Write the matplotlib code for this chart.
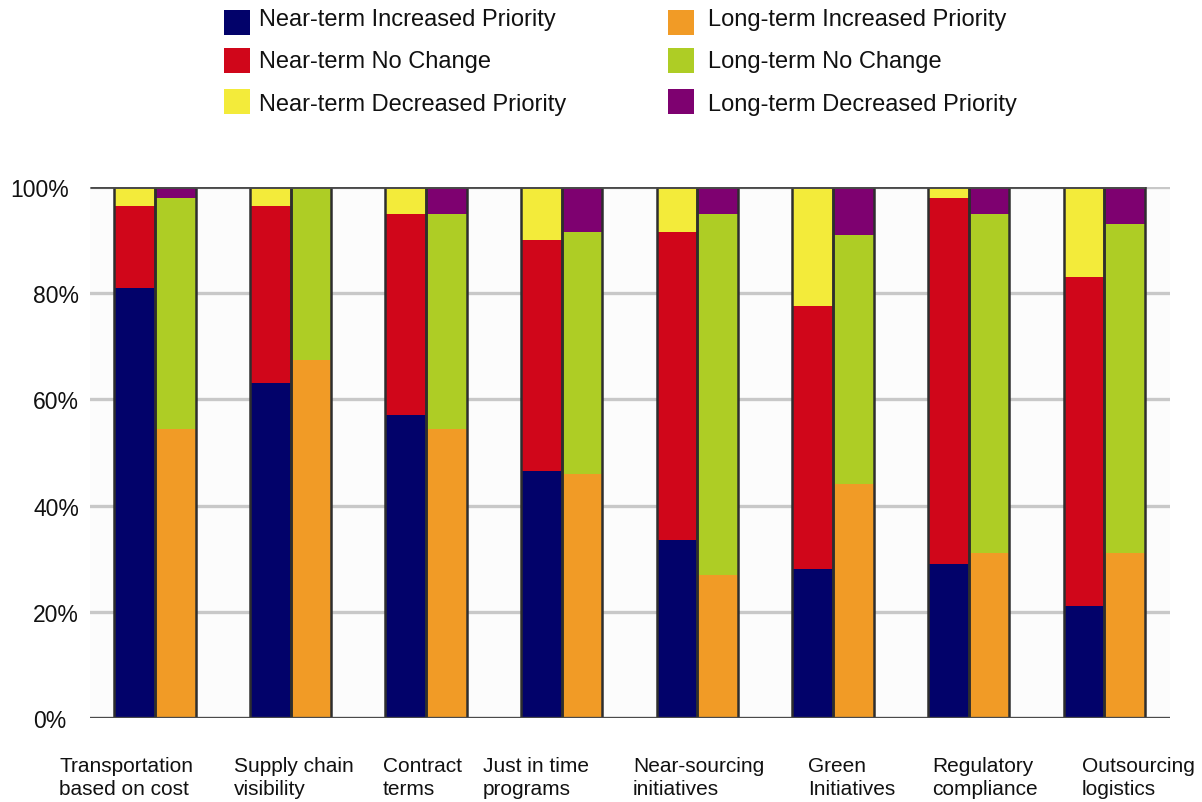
import matplotlib
matplotlib.use("Agg")
import matplotlib.pyplot as plt
from matplotlib.patches import Rectangle
import numpy as np

plt.rcParams['font.family'] = ['Liberation Sans', 'DejaVu Sans']

categories = [
    "Transportation\nbased on cost",
    "Supply chain\nvisibility",
    "Contract\nterms",
    "Just in time\nprograms",
    "Near-sourcing\ninitiatives",
    "Green\nInitiatives",
    "Regulatory\ncompliance",
    "Outsourcing\nlogistics",
]

near_increased = [81.0, 63.0, 57.0, 46.5, 33.5, 28.0, 29.0, 21.0]
near_no_change = [15.5, 33.5, 38.0, 43.5, 58.0, 49.5, 69.0, 62.0]
near_decreased = [3.5, 3.5, 5.0, 10.0, 8.5, 22.5, 2.0, 17.0]

long_increased = [54.5, 67.5, 54.5, 46.0, 27.0, 44.0, 31.0, 31.0]
long_no_change = [43.5, 32.5, 40.5, 45.5, 68.0, 47.0, 64.0, 62.0]
long_decreased = [2.0, 0.0, 5.0, 8.5, 5.0, 9.0, 5.0, 7.0]

series_labels = [
    "Near-term Increased Priority", "Near-term No Change", "Near-term Decreased Priority",
    "Long-term Increased Priority", "Long-term No Change", "Long-term Decreased Priority",
]
colors = ["#02026a", "#d0061a", "#f3eb3a", "#f19b26", "#aecd25", "#7e0170"]
ytick_values = [0, 20, 40, 60, 80, 100]

W, H = 1202, 803
fig = plt.figure(figsize=(W / 100, H / 100), dpi=100)


def fx(px):
    return px / W


def fy(py):
    return 1 - py / H


ax = fig.add_axes([fx(90), fy(719), fx(1170) - fx(90), fy(188) - fy(719)])
ax.set_facecolor("#fcfcfc")

x = np.arange(len(categories))
bw = 0.30
edge = "#2e2e2e"

# gridlines behind the bars
for v in ytick_values[1:]:
    ax.axhline(v, color="#c8c8c8", lw=2.4, zorder=0)

near = [near_increased, near_no_change, near_decreased]
long_ = [long_increased, long_no_change, long_decreased]
for group, xpos, cols in ((near, x - bw / 2, colors[:3]), (long_, x + bw / 2, colors[3:])):
    bottom = np.zeros(len(x))
    for vals, c in zip(group, cols):
        vals = np.array(vals)
        ax.bar(xpos, vals, bw, bottom=bottom, color=c, edgecolor="none", zorder=2)
        bottom += vals
    # outline of each stacked column
    ax.bar(xpos, bottom, bw, fill=False, edgecolor=edge, lw=1.8, zorder=3)

ax.axhline(0, color="#4a4a4a", lw=2.4, zorder=4)
ax.hlines(100, -0.479, x[-1] + bw, color="#4a4a4a", lw=2.0, zorder=4)

ax.set_xlim(-0.479, 7.485)
ax.set_ylim(0, 100)
for s in ax.spines.values():
    s.set_visible(False)
ax.set_xticks([])
ax.set_yticks([])

# y tick labels
ytick_left_px = [33, 33, 33, 33, 33, 10]
for v, lx in zip(ytick_values, ytick_left_px):
    yy = fy(719 - v * 5.31)
    fig.text(fx(lx), yy - 0.003, f"{v}%", fontsize=16.5, ha="left", va="center", color="#111111")

# category labels
label_left_px = [59, 234, 383, 483, 633, 808, 932, 1082]
for lab, lx in zip(categories, label_left_px):
    fig.text(fx(lx), fy(757), lab, fontsize=15, ha="left", va="top",
             linespacing=1.3, color="#111111")

# legend
legend_cols_px = [(224, 259), (668, 708)]
legend_square_rows_px = [23.5, 61, 102.5]
legend_text_rows_px = [20, 62, 105]
for i, lab in enumerate(series_labels):
    col, row = divmod(i, 3)
    sx, tx = legend_cols_px[col]
    cy = legend_square_rows_px[row]
    fig.add_artist(Rectangle((fx(sx), fy(cy + 12.5)), fx(26), 25 / H,
                             transform=fig.transFigure, color=colors[i], lw=0))
    fig.text(fx(tx), fy(legend_text_rows_px[row]), lab, fontsize=17, ha="left",
             va="center", color="#111111")

fig.savefig("out.png", dpi=100)
